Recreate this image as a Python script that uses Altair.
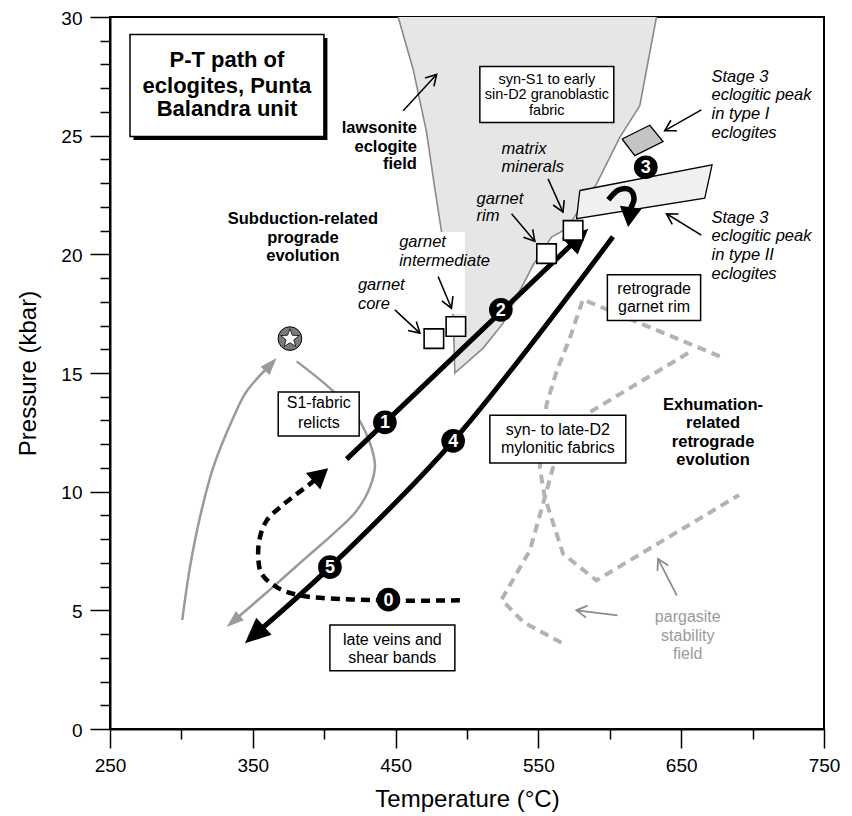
import math
import altair as alt
import pandas as pd

FONT = "Liberation Sans"

# ---------------- axis ticks ----------------
x_ticks = list(range(250, 751, 50))
y_ticks = list(range(0, 31, 1))

# ---------------- fields ----------------
law_T = [451.8, 462.3, 471.7, 477.5, 482.2, 490.3, 491.5, 511.3, 525.3, 546.3, 559.2, 569.7, 590.7, 607.0, 621.0, 632.7]
law_P = [30.0, 27.79, 25.14, 22.76, 20.95, 17.45, 15.0, 16.05, 17.1, 19.55, 20.73, 21.08, 22.97, 24.93, 26.26, 30.0]

peak1_T = [608.6, 628.0, 637.3, 617.5, 608.6]
peak1_P = [24.86, 25.44, 24.75, 24.16, 24.86]
peak2_T = [579.0, 671.6, 666.5, 576.7, 579.0]
peak2_P = [22.69, 23.77, 22.37, 21.5, 22.69]

parg1_T = [677.0, 581.2, 572.0, 562.7, 555.7, 551.0, 554.5, 567.3, 590.6, 690.5]
parg1_P = [15.7, 18.1, 16.47, 15.07, 13.67, 11.0, 9.76, 7.38, 6.26, 9.86]
parg2_T = [654.8, 583.6, 560.2, 554.5, 544.0, 524.2, 539.3, 566.2]
parg2_P = [15.84, 13.26, 11.01, 9.76, 7.52, 5.45, 4.51, 3.63]

# ---------------- P-T paths ----------------
pro_T = [415.7, 584.9]
pro_P = [11.37, 21.08]
retro_T = [602.2, 490.3, 404.0, 344.5]
retro_P = [20.74, 12.13, 6.82, 3.61]
path0_T = [495.0, 443.7, 383.0, 366.7, 356.2, 353.8, 355.0, 359.7, 369.0, 380.7, 390.0, 402.8]
path0_P = [5.42, 5.42, 5.63, 5.98, 6.54, 7.24, 8.08, 8.78, 9.34, 9.9, 10.32, 10.99]
curl_T = [599.0, 606.5, 614.0, 617.0, 614.5, 612.8]
curl_P = [22.3, 22.72, 22.72, 22.34, 21.9, 21.15]
s1a_T = [300.6, 306.0, 313.0, 322.3, 336.3, 345.7, 366.7]
s1a_P = [4.59, 6.82, 8.92, 11.02, 13.11, 14.23, 15.63]
s1b_T = [380.7, 406.3, 425.0, 435.5, 432.0, 422.7, 406.3, 387.7, 366.7, 348.0, 331.7]
s1b_P = [15.49, 14.23, 12.97, 11.16, 10.18, 9.2, 8.22, 7.24, 6.12, 5.14, 4.3]

# thin pointer arrows (start -> tip)
arr_T0 = [455.3, 449.5, 479.8, 531.2, 556.8, 664.1, 664.1]
arr_P0 = [26.05, 17.66, 19.06, 21.71, 23.18, 26.09, 20.81]
arr_T1 = [478.7, 467.0, 489.1, 547.5, 567.2, 638.5, 639.7]
arr_P1 = [27.58, 16.68, 17.73, 20.55, 21.78, 25.21, 21.71]
garr_T0 = [605.4, 646.9]
garr_P0 = [4.79, 5.63]
garr_T1 = [576.6, 633.8]
garr_P1 = [5.0, 7.17]

# ---------------- markers ----------------
num_lab = ["0", "1", "2", "3", "4", "5"]
num_T = [445.0, 442.5, 523.7, 625.2, 490.3, 404.0]
num_P = [5.45, 12.92, 17.66, 23.67, 12.14, 6.82]
sq_T = [476.8, 492.2, 555.7, 574.3]
sq_P = [16.45, 16.96, 20.03, 21.01]
star_T = [376.0]
star_P = [16.45]

# ---------------- boxes and text ----------------
box_T1 = [509.0, 598.3, 367.8, 404.0, 516.0]
box_T2 = [602.8, 663.6, 424.5, 491.5, 611.2]
box_P1 = [25.56, 17.21, 12.35, 2.45, 11.21]
box_P2 = [27.91, 19.14, 14.2, 4.38, 13.22]
box_txt = ["syn-S1 to early", "sin-D2 granoblastic", "fabric", "retrograde", "garnet rim",
           "S1-fabric", "relicts", "late veins and", "shear bands", "syn- to late-D2", "mylonitic fabrics"]
box_txt_T = [555.9, 555.9, 555.9, 631.0, 631.0, 396.2, 396.2, 447.7, 447.7, 563.6, 563.6]
box_txt_P = [27.36, 26.73, 26.06, 18.55, 17.8, 13.74, 12.9, 3.74, 2.98, 12.6, 11.85]
box_txt_size = [14.5, 14.5, 14.5, 16, 16, 16, 16, 16, 16, 16, 16]

title_box_T = [264.0, 399.8]
title_box_P = [24.97, 29.26]
title_txt = ["P-T path of", "eclogites, Punta", "Balandra unit"]
title_T = [331.9, 331.9, 331.9]
title_P = [28.18, 27.1, 26.12]

bold_c_txt = ["Subduction-related", "prograde", "evolution", "Exhumation-", "related", "retrograde", "evolution"]
bold_c_T = [385.1, 385.1, 385.1, 672.3, 672.3, 672.3, 672.3]
bold_c_P = [21.48, 20.7, 19.92, 13.65, 12.9, 12.1, 11.33]
bold_r_txt = ["lawsonite", "eclogite", "field"]
bold_r_T = [464.9, 464.9, 464.9]
bold_r_P = [25.31, 24.51, 23.81]

ital_txt = ["garnet", "core", "garnet", "intermediate", "garnet", "rim", "matrix", "minerals",
            "Stage 3", "eclogitic peak", "in type I", "eclogites",
            "Stage 3", "eclogitic peak", "in type II", "eclogites"]
ital_T = [423.6, 423.6, 452.5, 452.5, 506.7, 506.7, 524.2, 524.2,
          671.2, 671.2, 671.2, 671.2, 671.2, 671.2, 671.2, 671.2]
ital_P = [18.71, 17.89, 20.5, 19.71, 22.32, 21.61, 24.44, 23.67,
          27.49, 26.71, 25.9, 25.12, 21.53, 20.78, 19.97, 19.19]

parg_txt = ["pargasite", "stability", "field"]
parg_T = [654.6, 654.6, 654.6]
parg_P = [4.72, 3.91, 3.15]

white_T = [449.5, 498.5]
white_P = [17.5, 20.94]

# ---------------- scales / helpers ----------------
W, H = 714, 712
PXT = W / 500.0
PXP = H / 30.0

XS = alt.Scale(domain=[250, 750], nice=False, zero=False)
YS = alt.Scale(domain=[0, 30], nice=False, zero=False)
XAX = alt.Axis(title="Temperature (°C)", values=x_ticks,
               labelExpr="datum.value % 100 == 50 ? datum.label : ''",
               tickSize={"condition": {"test": "datum.value % 100 == 50", "value": 19}, "value": 10},
               labelFlush=False, labelOverlap=False, labelPadding=8, titlePadding=12, grid=False)
YAX = alt.Axis(title="Pressure (kbar)", values=y_ticks,
               labelExpr="datum.value % 5 == 0 ? datum.label : ''",
               tickSize={"condition": {"test": "datum.value % 5 == 0", "value": 20}, "value": 10},
               labelFlush=False, labelOverlap=False, labelPadding=8, labelOffset=1,
               titlePadding=20, grid=False)


def X(f="T"):
    return alt.X(f"{f}:Q", scale=XS, axis=XAX)


def Y(f="P"):
    return alt.Y(f"{f}:Q", scale=YS, axis=YAX)


def bearing(t0, p0, t1, p1):
    dx = (t1 - t0) * PXT
    dy = -(p1 - p0) * PXP
    return math.degrees(math.atan2(dx, -dy)) % 360


def shorten(T, P, back):
    t0, p0, t1, p1 = T[-2], P[-2], T[-1], P[-1]
    L = math.hypot((t1 - t0) * PXT, (p1 - p0) * PXP)
    f = max(0.0, 1 - back / L)
    return T[:-1] + [t0 + (t1 - t0) * f], P[:-1] + [p0 + (p1 - p0) * f]


def path_df(paths):
    rows = []
    for gi, (T, P) in enumerate(paths):
        for i, (t, p) in enumerate(zip(T, P)):
            rows.append({"T": t, "P": p, "g": gi, "o": i})
    return pd.DataFrame(rows)


def lines(paths, **kw):
    return alt.Chart(path_df(paths)).mark_line(**kw).encode(
        x=X(), y=Y(), detail="g:N", order="o:Q")


def heads(paths, shape, size, color, filled=True, sw=1.5):
    df = pd.DataFrame([{"T": T[-1], "P": P[-1], "a": bearing(T[-2], P[-2], T[-1], P[-1])}
                       for T, P in paths])
    return alt.Chart(df).mark_point(shape=shape, size=size, filled=filled, color=color,
                                    opacity=1, strokeWidth=sw).encode(
        x=X(), y=Y(), angle=alt.Angle("a:Q", scale=None))


def texts(txt, T, P, align="center", color="black", size=16.5, weight="normal", style="normal"):
    df = pd.DataFrame({"txt": txt, "T": T, "P": P})
    return alt.Chart(df).mark_text(align=align, baseline="middle", font=FONT, fontSize=size,
                                   fontWeight=weight, fontStyle=style, color=color).encode(
        x=X(), y=Y(), text="txt:N")


FILLED_HEAD = "M0,0L-0.9,2L0.9,2Z"
GREY_HEAD = "M0,0L-0.7,2L0.7,2Z"
OPEN_HEAD = "M-0.75,1.3L0,0L0.75,1.3"
star_pts = []
for k in range(10):
    r = 1.0 if k % 2 == 0 else 0.42
    a = math.radians(-90 + 36 * k)
    star_pts.append(f"{r * math.cos(a):.3f},{r * math.sin(a):.3f}")
STAR = "M" + "L".join(star_pts) + "Z"

layers = []

# lawsonite eclogite field
layers.append(lines([(law_T, law_P)], fill="#e6e6e6", stroke="#8a8a8a", strokeWidth=1.6))
# white background behind "garnet intermediate"
layers.append(alt.Chart(pd.DataFrame({"t1": [white_T[0]], "t2": [white_T[1]],
                                      "p1": [white_P[0]], "p2": [white_P[1]]}))
              .mark_rect(color="white").encode(x=X("t1"), x2="t2:Q", y=Y("p1"), y2="p2:Q"))

# pargasite field (grey dashed)
layers.append(lines([(parg1_T, parg1_P), (parg2_T, parg2_P)], color="#b3b3b3",
                    strokeWidth=4, strokeDash=[9, 6]))

# grey S1 paths
s1a_T2, s1a_P2 = shorten(s1a_T, s1a_P, 6)
s1b_T2, s1b_P2 = shorten(s1b_T, s1b_P, 6)
layers.append(lines([(s1a_T2, s1a_P2), (s1b_T2, s1b_P2)], color="#9a9a9a", strokeWidth=2.5,
                    interpolate="catmull-rom"))
layers.append(heads([(s1a_T, s1a_P), (s1b_T, s1b_P)], GREY_HEAD, 300, "#9a9a9a"))

# stage-3 peak fields
layers.append(lines([(peak1_T, peak1_P)], fill="#c4c4c4", stroke="black", strokeWidth=1.3))
layers.append(lines([(peak2_T, peak2_P)], fill="#f0f0f0", stroke="black", strokeWidth=1.3))

# main black P-T paths
pro_T2, pro_P2 = shorten(pro_T, pro_P, 9)
retro_T2, retro_P2 = shorten(retro_T, retro_P, 9)
curl_T2, curl_P2 = shorten(curl_T, curl_P, 8)
p0_T2, p0_P2 = shorten(path0_T, path0_P, 8)
layers.append(lines([(pro_T2, pro_P2)], color="black", strokeWidth=5))
layers.append(lines([(retro_T2, retro_P2)], color="black", strokeWidth=5, interpolate="catmull-rom"))
layers.append(lines([(curl_T2, curl_P2)], color="black", strokeWidth=5.5, interpolate="catmull-rom"))
layers.append(lines([(p0_T2, p0_P2)], color="black", strokeWidth=4.5, strokeDash=[9, 6],
                    interpolate="catmull-rom"))
layers.append(heads([(pro_T, pro_P), (retro_T, retro_P)], FILLED_HEAD, 650, "black"))
layers.append(heads([(curl_T, curl_P), (path0_T, path0_P)], "M0,0L-1.1,2L1.1,2Z", 400, "black"))

# thin pointer arrows
arr_paths = [([a, b], [c, d]) for a, b, c, d in zip(arr_T0, arr_T1, arr_P0, arr_P1)]
garr_paths = [([a, b], [c, d]) for a, b, c, d in zip(garr_T0, garr_T1, garr_P0, garr_P1)]
layers.append(lines(arr_paths, color="black", strokeWidth=1.5))
layers.append(heads(arr_paths, OPEN_HEAD, 260, "black", filled=False, sw=1.6))
layers.append(lines(garr_paths, color="#8c8c8c", strokeWidth=1.8))
layers.append(heads(garr_paths, OPEN_HEAD, 260, "#8c8c8c", filled=False, sw=1.8))

# text boxes
box_df = pd.DataFrame({"t1": box_T1, "t2": box_T2, "p1": box_P1, "p2": box_P2})
layers.append(alt.Chart(box_df).mark_rect(fill="white", stroke="black", strokeWidth=1.5).encode(
    x=X("t1"), x2="t2:Q", y=Y("p1"), y2="p2:Q"))
bt_df = pd.DataFrame({"txt": box_txt, "T": box_txt_T, "P": box_txt_P, "s": box_txt_size})
layers.append(alt.Chart(bt_df).mark_text(align="center", baseline="middle", font=FONT, color="black").encode(
    x=X(), y=Y(), text="txt:N", size=alt.Size("s:Q", scale=None, legend=None)))

# title box with shadow
tb_df = pd.DataFrame({"t1": [title_box_T[0]], "t2": [title_box_T[1]],
                      "p1": [title_box_P[0]], "p2": [title_box_P[1]]})
layers.append(alt.Chart(tb_df).mark_rect(color="black", xOffset=3.5, x2Offset=3.5, yOffset=3.5, y2Offset=3.5).encode(
    x=X("t1"), x2="t2:Q", y=Y("p1"), y2="p2:Q"))
layers.append(alt.Chart(tb_df).mark_rect(fill="white", stroke="black", strokeWidth=1.5).encode(
    x=X("t1"), x2="t2:Q", y=Y("p1"), y2="p2:Q"))
layers.append(texts(title_txt, title_T, title_P, size=22, weight="bold"))

# squares and star
layers.append(alt.Chart(pd.DataFrame({"T": sq_T, "P": sq_P})).mark_point(
    shape="square", size=380, filled=True, fill="white", stroke="black", strokeWidth=1.6, opacity=1).encode(
    x=X(), y=Y()))
star_df = pd.DataFrame({"T": star_T, "P": star_P})
layers.append(alt.Chart(star_df).mark_point(shape="circle", size=560, filled=True, fill="#7a7a7a",
                                            stroke="black", strokeWidth=1, opacity=1).encode(x=X(), y=Y()))
layers.append(alt.Chart(star_df).mark_point(shape=STAR, size=380, filled=True, fill="white",
                                            stroke="black", strokeWidth=0.8, opacity=1).encode(x=X(), y=Y()))

# numbered stages
num_df = pd.DataFrame({"lab": num_lab, "T": num_T, "P": num_P})
layers.append(alt.Chart(num_df).mark_point(shape="circle", size=560, filled=True, color="black",
                                           opacity=1).encode(x=X(), y=Y()))
layers.append(alt.Chart(num_df).mark_text(font=FONT, fontSize=18, fontWeight="bold", color="white",
                                          baseline="middle", align="center", dy=1).encode(
    x=X(), y=Y(), text="lab:N"))

# free labels
layers.append(texts(bold_c_txt, bold_c_T, bold_c_P, weight="bold"))
layers.append(texts(bold_r_txt, bold_r_T, bold_r_P, align="right", weight="bold"))
layers.append(texts(ital_txt, ital_T, ital_P, align="left", style="italic"))
layers.append(texts(parg_txt, parg_T, parg_P, color="#9a9a9a", size=16))

chart = alt.layer(*layers).properties(
    width=W, height=H,
    autosize=alt.AutoSizeParams(type="none"),
    padding={"left": 102, "top": 9, "right": 20, "bottom": 96},
).configure_view(stroke="black", strokeWidth=2).configure_axis(
    domainColor="black", domainWidth=2, tickColor="black", tickWidth=1.5,
    labelFont=FONT, labelFontSize=19, labelColor="black",
    titleFont=FONT, titleFontSize=24, titleFontWeight="normal", titleColor="black",
)

chart.save("out.html", embed_options={"renderer": "svg", "actions": False})
